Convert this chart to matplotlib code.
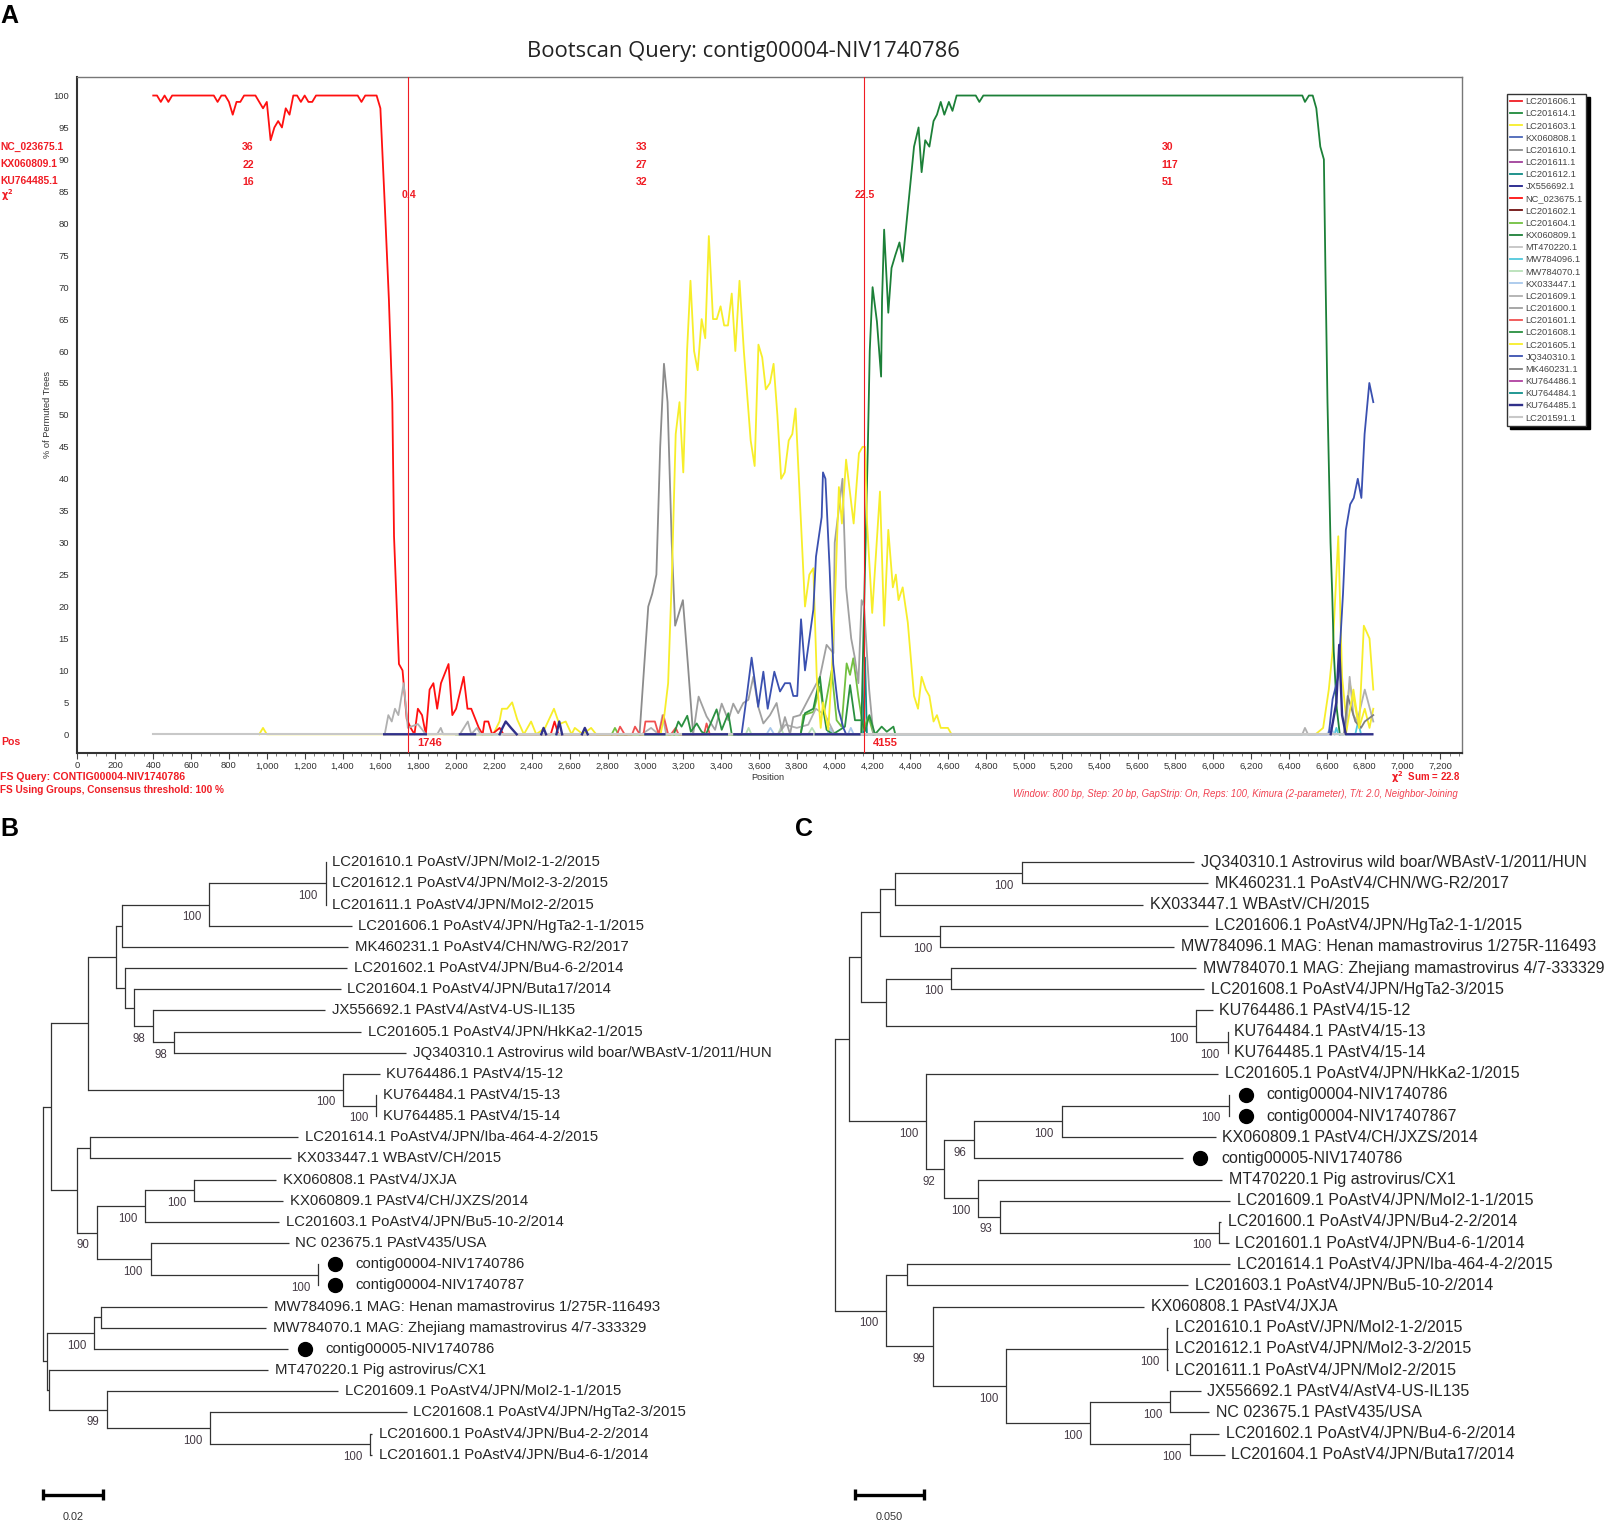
import numpy as np
from matplotlib import pyplot as plt

W, H = 1606, 1522
RED = '#f01c24'

# bootscan panel: series names and colours, same order as the legend
SERIES_NAMES = ['LC201606.1', 'LC201614.1', 'LC201603.1', 'KX060808.1', 'LC201610.1', 'LC201611.1',
                'LC201612.1', 'JX556692.1', 'NC_023675.1', 'LC201602.1', 'LC201604.1', 'KX060809.1',
                'MT470220.1', 'MW784096.1', 'MW784070.1', 'KX033447.1', 'LC201609.1', 'LC201600.1',
                'LC201601.1', 'LC201608.1', 'LC201605.1', 'JQ340310.1', 'MK460231.1', 'KU764486.1',
                'KU764484.1', 'KU764485.1', 'LC201591.1']
SERIES_COLORS = ['#f01c24', '#1f8a3c', '#f7ee2a', '#4a66b8', '#8c8c8c', '#a0409a',
                 '#0f8a84', '#20208a', '#ff1010', '#701010', '#72c040', '#1c8038',
                 '#c4c4c4', '#50c8dc', '#b8e0b8', '#a8c8ec', '#b0b0b0', '#a0a0a0',
                 '#f05050', '#2a9040', '#f7ee2a', '#3a50b0', '#808080', '#b040a0',
                 '#10908a', '#30308a', '#c8c8c8']

NC_023675_X = [400, 420, 440, 460, 480, 500, 720, 740, 760, 780, 800, 820, 840, 860, 880, 940, 960, 980, 1000,
               1020, 1040, 1060, 1080, 1100, 1120, 1140, 1160, 1180, 1200, 1220, 1240, 1260, 1480, 1500, 1520,
               1580, 1600, 1623, 1645, 1663, 1672, 1698, 1717, 1739, 1760, 1780, 1798, 1820, 1840, 1860, 1880,
               1900, 1920, 1960, 1980, 2000, 2040, 2060, 2080, 2120, 2140, 2150, 2170, 2190, 2230, 2250,
               2500, 2520, 2540, 2860, 2880, 2900]
NC_023675_Y = [100, 100, 99, 100, 99, 100, 100, 99, 100, 100, 99, 97, 99, 99, 100, 100, 99, 98, 99,
               93, 95, 96, 95, 98, 97, 100, 100, 99, 100, 99, 99, 100, 100, 99, 100,
               100, 98, 83, 68, 52, 31, 11, 10, 2.4, 1, 0, 4, 3, 0, 7, 8, 4, 8, 11, 3, 4, 9, 4, 4, 1, 0, 2, 2, 0, 1, 0,
               0, 2, 0, 0, 0, 0]

KX060809_X = [2000, 4140, 4163, 4175, 4185, 4200, 4223, 4245, 4250, 4261, 4283, 4300, 4320, 4342, 4359, 4419, 4443,
              4459, 4478, 4500, 4522, 4540, 4560, 4579, 4603, 4622, 4644, 4745, 4764, 4785, 6470, 6484, 6505,
              6525, 6544, 6565, 6584, 6592, 6603, 6611, 6619, 6628, 6636, 6652, 6668]
KX060809_Y = [0, 0, 30, 45, 60, 70, 64.6, 56, 68, 79, 66, 73, 75, 77, 74, 92, 95,
              88, 93, 92, 96, 97, 99, 97, 99, 97.6, 100, 100, 99, 100, 100, 99, 100,
              100, 98, 92, 90, 73, 52, 41, 30, 22, 13, 4, 0]

LC201605_X = [3080, 3100, 3120, 3140, 3160, 3180, 3200, 3220, 3238, 3257, 3276, 3297, 3316, 3335, 3357, 3377, 3397,
              3416, 3436, 3456, 3475, 3497, 3520, 3556, 3577, 3597, 3617, 3636, 3658, 3677, 3697, 3717, 3736,
              3757, 3776, 3793, 3816, 3843, 3866, 3887, 3905, 3926, 3938, 3966, 3984, 4001, 4022, 4038, 4060,
              4100, 4128, 4147, 4160, 4171, 4198, 4239, 4261, 4283, 4307, 4323, 4337, 4359, 4386, 4419, 4440,
              4459, 4481, 4500, 4522, 4540, 4560, 4598, 4617]
LC201605_Y = [0, 3, 8, 25, 47, 52, 41, 60, 71, 60, 57, 65, 62, 78, 65, 65, 67,
              64, 64, 69, 60, 71, 60, 46, 42, 61, 59, 54, 55, 58, 50, 40, 41,
              46, 47, 51, 36.7, 20, 25, 26, 9, 1, 5, 0.7, 9.5, 21, 38.7, 33, 43,
              33, 44, 45, 45, 33, 19, 38, 17, 32, 23, 25, 21, 23, 17.5, 6, 4,
              9, 7, 6, 2, 3, 1, 1, 0]

LC201603_X = [960, 980, 1000, 2196, 2229, 2242, 2269, 2296, 2323, 2358, 2396, 2423, 2470, 2517, 2545, 2579, 2610, 2627,
              2670, 2713, 2740, 6540, 6580, 6610, 6630, 6660, 6680, 6700, 6720, 6745, 6770, 6800, 6825, 6845]
LC201603_Y = [0, 1, 0, 0, 2, 4, 4, 5, 2.3, 0, 2, 0, 1, 4, 1.6, 2, 0, 1,
              0, 1, 0, 0, 1, 7, 13, 31, 9, 3, 8, 5, 1, 4, 1, 4]
LC201605_END_X = [6700, 6740, 6770, 6795, 6825, 6845]
LC201605_END_Y = [0, 7, 1, 17, 15, 7]

JQ340310_X = [3490, 3508, 3535, 3561, 3596, 3623, 3646, 3681, 3711, 3737, 3764, 3781, 3802, 3822, 3843, 3887, 3901,
              3931, 3938, 3951, 3973, 3992, 4019, 4046, 4060, 6610, 6630, 6660, 6685, 6700, 6723, 6742, 6763,
              6782, 6799, 6824, 6845]
JQ340310_Y = [0, 0, 5.9, 12, 4.3, 9.8, 4, 9.8, 6.7, 8, 8, 6, 6, 18, 10, 19.5, 27.8,
              34, 41, 40, 26, 11, 4, 1, 0, 0, 5.5, 9, 22, 32, 36, 37, 40,
              37, 47, 55, 52]

LC201610_X = [2969, 3015, 3036, 3058, 3078, 3098, 3117, 3139, 3157, 3198, 3225, 3252]
LC201610_Y = [0, 20, 22, 25, 45, 58, 52, 30, 17, 21, 10.7, 0]

LC201600_X = [3252, 3281, 3323, 3368, 3403, 3438, 3464, 3490, 3517, 3544, 3570, 3596, 3623, 3658, 3693, 3720, 3737,
              3764, 3781, 3817, 3887, 3922, 3957, 3993, 4000, 4041, 4060, 4087, 4106, 4125, 4142, 4155, 4182, 4204]
LC201600_Y = [0, 5.9, 2.8, 0.7, 4.8, 2.2, 4.8, 3.3, 4.9, 5.4, 9, 4.3, 1.7, 3, 4.9, 0.7, 2.7,
              0, 2.7, 3, 7, 9, 14, 12.7, 30, 40, 23, 15, 12, 8, 21, 20, 7, 0]

LC201609_X = [1623, 1642, 1660, 1677, 1695, 1723, 1745, 1798, 1840, 1900, 1919, 1932, 2020, 2062, 2080, 2110, 2130,
              2980, 3030, 3070, 3090, 3110, 3700, 3740, 3800, 3860, 3900, 3950, 4000, 6470, 6484, 6500,
              6700, 6720, 6740, 6760, 6800, 6845]
LC201609_Y = [0, 3, 2, 4, 3, 8, 1, 1.6, 0, 0, 1, 0, 0, 2, 0, 1, 0,
              0, 1, 0, 3, 0, 0, 1.5, 1, 1.5, 4, 3, 0, 0, 1, 0,
              0, 9, 3, 2, 7, 2]

MK460231_X = [6670, 6690, 6710, 6750, 6780, 6800, 6845]
MK460231_Y = [0, 0, 6, 2, 1, 2, 3]

LC201608_X = [3150, 3174, 3191, 3221, 3240, 3271, 3297, 3320, 3376, 3403, 3438, 3456, 3820, 3843, 3887, 3922, 3943,
              3957, 3990, 4054, 4081, 4107, 4142, 4160, 4183, 4213, 4248, 4275, 4310, 4320]
LC201608_Y = [0, 2, 1.2, 2.9, 0.4, 1.7, 0.4, 0, 3.9, 0.7, 3.3, 0, 0, 3.3, 4, 9, 3.3,
              0.7, 0, 1.2, 7.7, 2.2, 2.2, 0.5, 3, 0, 1.2, 0.4, 1.2, 0]

LC201604_X = [2822, 2839, 2857, 3820, 3834, 3887, 3922, 3943, 3984, 4010, 4036, 4063, 4081, 4098, 4125, 4152, 4178, 4205]
LC201604_Y = [0, 1, 0, 0, 3, 3.5, 7.5, 3.3, 10, 2.2, 1.2, 11.1, 9.3, 11.9, 5.9, 0.7, 2.8, 0]

LC201601_X = [2850, 2866, 2890, 2930, 2945, 2970, 2990, 3000, 3050, 3070, 3095, 3120, 3135, 3160, 3175, 3310, 3323, 3340]
LC201601_Y = [0, 1.2, 0, 0, 1.2, 0, 0, 2, 2, 0, 3, 0, 0, 1, 0, 0, 1.7, 0]

MW784096_X = [6640, 6650, 6660, 6750, 6765, 6780]
MW784096_Y = [0, 1, 0, 0, 2, 0]

MW784070_X = [3530, 3545, 3560, 3700, 3715, 3730, 3860, 3880, 3900]
MW784070_Y = [0, 1, 0, 0, 1, 0, 0, 1, 0]

KX033447_X = [3640, 3660, 3680, 3960, 3975, 3990, 4070, 4085, 4100, 6600, 6620, 6640]
KX033447_Y = [0, 1, 0, 0, 1, 0, 0, 1, 0, 0, 1, 0]

LC201612_X = [4150, 4160, 4170]
LC201612_Y = [0, 12, 0]

# navy trace sits on the baseline, gaps are where it drops under the grey one
KU764485_X = [1620, 1840, np.nan, 2020, 2100, np.nan, 2230, 2245, 2262, 2290, 2320, np.nan, 2450, 2462, 2475, np.nan,
              2530, 2545, 2560, np.nan, 2665, 2680, 2695, np.nan, 3000, 3100, np.nan, 3200, 3430, np.nan,
              3470, 3880, np.nan, 3900, 4130, np.nan, 6620, 6650, 6665, 6680, 6700, 6840]
KU764485_Y = [0, 0, np.nan, 0, 0, np.nan, 0, 1, 2, 1, 0, np.nan, 0, 1, 0, np.nan,
              0, 2, 0, np.nan, 0, 1, 0, np.nan, 0, 0, np.nan, 0, 0, np.nan,
              0, 0, np.nan, 0, 0, np.nan, 0, 5, 14, 3, 0, 0]

BASELINE_X = [400, 6840]
BASELINE_Y = [0, 0]

TRACES = {
    'NC_023675.1': (NC_023675_X, NC_023675_Y),
    'KX060809.1': (KX060809_X, KX060809_Y),
    'LC201605.1': (LC201605_X, LC201605_Y),
    'LC201603.1': (LC201603_X, LC201603_Y),
    'JQ340310.1': (JQ340310_X, JQ340310_Y),
    'LC201610.1': (LC201610_X, LC201610_Y),
    'LC201600.1': (LC201600_X, LC201600_Y),
    'LC201609.1': (LC201609_X, LC201609_Y),
    'MK460231.1': (MK460231_X, MK460231_Y),
    'LC201608.1': (LC201608_X, LC201608_Y),
    'LC201604.1': (LC201604_X, LC201604_Y),
    'LC201601.1': (LC201601_X, LC201601_Y),
    'MW784096.1': (MW784096_X, MW784096_Y),
    'MW784070.1': (MW784070_X, MW784070_Y),
    'KX033447.1': (KX033447_X, KX033447_Y),
    'LC201612.1': (LC201612_X, LC201612_Y),
    'KU764485.1': (KU764485_X, KU764485_Y),
}

BREAKPOINTS = [1746, 4155]
GROUP_NAMES = ['NC_023675.1', 'KX060809.1', 'KU764485.1']
GROUP_COUNTS = [[36, 22, 16], [33, 27, 32], [30, 117, 51]]
GROUP_COUNT_X = [870, 2948, 5728]
CHI_VALUES = ['0.4', '22.5']

# tree B
B_LABELS = ['LC201610.1 PoAstV/JPN/MoI2-1-2/2015', 'LC201612.1 PoAstV4/JPN/MoI2-3-2/2015',
            'LC201611.1 PoAstV4/JPN/MoI2-2/2015', 'LC201606.1 PoAstV4/JPN/HgTa2-1-1/2015',
            'MK460231.1 PoAstV4/CHN/WG-R2/2017', 'LC201602.1 PoAstV4/JPN/Bu4-6-2/2014',
            'LC201604.1 PoAstV4/JPN/Buta17/2014', 'JX556692.1 PAstV4/AstV4-US-IL135',
            'LC201605.1 PoAstV4/JPN/HkKa2-1/2015', 'JQ340310.1 Astrovirus wild boar/WBAstV-1/2011/HUN',
            'KU764486.1 PAstV4/15-12', 'KU764484.1 PAstV4/15-13', 'KU764485.1 PAstV4/15-14',
            'LC201614.1 PoAstV4/JPN/Iba-464-4-2/2015', 'KX033447.1 WBAstV/CH/2015', 'KX060808.1 PAstV4/JXJA',
            'KX060809.1 PAstV4/CH/JXZS/2014', 'LC201603.1 PoAstV4/JPN/Bu5-10-2/2014', 'NC 023675.1 PAstV435/USA',
            'contig00004-NIV1740786', 'contig00004-NIV1740787', 'MW784096.1 MAG: Henan mamastrovirus 1/275R-116493',
            'MW784070.1 MAG: Zhejiang mamastrovirus 4/7-333329', 'contig00005-NIV1740786', 'MT470220.1 Pig astrovirus/CX1',
            'LC201609.1 PoAstV4/JPN/MoI2-1-1/2015', 'LC201608.1 PoAstV4/JPN/HgTa2-3/2015',
            'LC201600.1 PoAstV4/JPN/Bu4-2-2/2014', 'LC201601.1 PoAstV4/JPN/Bu4-6-1/2014']
B_TIPS = [638, 638, 638, 689, 682, 680, 668, 637, 708, 796, 744, 737, 737, 585, 570, 541, 555, 547, 566,
          623, 623, 524, 522, 565, 526, 663, 797, 729, 729]
B_CONTIGS = [19, 20, 23]
# (depth, support, children); an int child is a row in the label list
B_TREE = (85, None, [
    (100, None, [
        (172, None, [
            (228, None, [
                (240, None, [(410, 100, [(638, 100, [0, 1, 2]), 3]), 4]),
                (245, None, [5, (262, None, [6, (300, 98, [7, (342, 98, [8, 9])])])]),
            ]),
            (672, 100, [10, (737, 100, [11, 12])]),
        ]),
        (150, None, [
            (177, None, [13, 14]),
            (190, 90, [
                (284, 100, [(380, 100, [15, 16]), 17]),
                (295, 100, [18, (623, 100, [19, 20])]),
            ]),
        ]),
    ]),
    (92, None, [
        (185, 100, [(197, None, [21, 22]), 23]),
        (97, None, [24, (210, 99, [25, (412, 100, [26, (725, 100, [27, 28])])])]),
    ]),
])

# tree C
C_LABELS = ['JQ340310.1 Astrovirus wild boar/WBAstV-1/2011/HUN', 'MK460231.1 PoAstV4/CHN/WG-R2/2017',
            'KX033447.1 WBAstV/CH/2015', 'LC201606.1 PoAstV4/JPN/HgTa2-1-1/2015',
            'MW784096.1 MAG: Henan mamastrovirus 1/275R-116493', 'MW784070.1 MAG: Zhejiang mamastrovirus 4/7-333329',
            'LC201608.1 PoAstV4/JPN/HgTa2-3/2015', 'KU764486.1 PAstV4/15-12', 'KU764484.1 PAstV4/15-13',
            'KU764485.1 PAstV4/15-14', 'LC201605.1 PoAstV4/JPN/HkKa2-1/2015', 'contig00004-NIV1740786',
            'contig00004-NIV17407867', 'KX060809.1 PAstV4/CH/JXZS/2014', 'contig00005-NIV1740786',
            'MT470220.1 Pig astrovirus/CX1', 'LC201609.1 PoAstV4/JPN/MoI2-1-1/2015', 'LC201600.1 PoAstV4/JPN/Bu4-2-2/2014',
            'LC201601.1 PoAstV4/JPN/Bu4-6-1/2014', 'LC201614.1 PoAstV4/JPN/Iba-464-4-2/2015',
            'LC201603.1 PoAstV4/JPN/Bu5-10-2/2014', 'KX060808.1 PAstV4/JXJA', 'LC201610.1 PoAstV/JPN/MoI2-1-2/2015',
            'LC201612.1 PoAstV4/JPN/MoI2-3-2/2015', 'LC201611.1 PoAstV4/JPN/MoI2-2/2015', 'JX556692.1 PAstV4/AstV4-US-IL135',
            'NC 023675.1 PAstV435/USA', 'LC201602.1 PoAstV4/JPN/Bu4-6-2/2014', 'LC201604.1 PoAstV4/JPN/Buta17/2014']
C_TIPS = [776, 803, 678, 803, 738, 781, 796, 812, 841, 841, 822, 843, 843, 818, 755, 831, 845, 828, 843, 846,
          765, 680, 727, 727, 727, 789, 806, 824, 835]
C_CONTIGS = [11, 12, 14]
C_TREE = (87, None, [
    (113, None, [
        (137, None, [
            (172, None, [
                (202, None, [(445, 100, [0, 1]), 2]),
                (289, 100, [3, 4]),
            ]),
            (185, None, [
                (310, 100, [5, 6]),
                (780, 100, [7, (841, 100, [8, 9])]),
            ]),
        ]),
        (262, 100, [
            10,
            (295, 92, [
                (353, 96, [(522, 100, [(843, 100, [11, 12]), 13]), 14]),
                (362, 100, [15, (403, 93, [16, (825, 100, [17, 18])])]),
            ]),
        ]),
    ]),
    (185, 100, [
        (224, None, [19, 20]),
        (275, 99, [
            21,
            (415, 100, [
                (725, 100, [22, 23, 24]),
                (577, 100, [(731, 100, [25, 26]), (768, 100, [27, 28])]),
            ]),
        ]),
    ]),
])

B_SCALE = ('0.02', 85, 202)
C_SCALE = ('0.050', 124, 258)


def px_text(x, y, s, **kw):
    kw.setdefault('va', 'center')
    kw.setdefault('family', 'Liberation Sans')
    fig.text(x / W, 1 - y / H, s, **kw)


def drawBootscan():
    left, right, top, bottom = 77.5, 1461.7, 77, 753
    ax = fig.add_axes([left / W, 1 - bottom / H, (right - left) / W, (bottom - top) / H])
    ax.set_xlim(0, 7312)
    ax.set_ylim(-2.93, 102.9)
    for name, color in zip(SERIES_NAMES, SERIES_COLORS):
        x, y = TRACES.get(name, (BASELINE_X, BASELINE_Y))
        if name == 'LC201591.1':
            z, lw = 3.5, 1.5
        elif name == 'KU764485.1':
            z, lw = 3.6, 1.7
        elif name in TRACES:
            z, lw = 3, 1.3
        else:
            z, lw = 1, 1.3
        ax.plot(x, y, color=color, lw=lw, zorder=z, label=name)
    ax.plot(LC201605_END_X, LC201605_END_Y, color='#f7ee2a', lw=1.3, zorder=3)
    for b in BREAKPOINTS:
        ax.axvline(b, color=RED, lw=0.8, zorder=4)

    ax.set_xticks(np.arange(0, 7201, 200))
    ax.set_xticks(np.arange(0, 7301, 50), minor=True)
    ax.set_yticks(np.arange(0, 101, 5))
    ax.xaxis.set_major_formatter(plt.FuncFormatter(lambda v, p: f'{int(v):,}'))
    ax.tick_params(axis='x', which='major', length=4, width=0.8, labelsize=6.8, labelcolor='#333333', pad=2, color='#444444')
    ax.tick_params(axis='x', which='minor', length=2, width=0.6, color='#666666')
    ax.tick_params(axis='y', which='major', length=0, labelsize=6.8, labelcolor='#333333', pad=6)
    for lab in ax.get_xticklabels() + ax.get_yticklabels():
        lab.set_family('Liberation Sans')
    for side in ['top', 'right']:
        ax.spines[side].set_color('#777777')
        ax.spines[side].set_linewidth(1.0)
    for side in ['left', 'bottom']:
        ax.spines[side].set_color('#333333')
        ax.spines[side].set_linewidth(1.5)

    # red annotations inside the plot
    for xpos, counts in zip(GROUP_COUNT_X, GROUP_COUNTS):
        for c, yv in zip(counts, [91.9, 89.2, 86.5]):
            ax.text(xpos, yv, str(c), color=RED, fontsize=7.6, fontweight='bold', va='center', family='Liberation Sans')
    for b, chi in zip(BREAKPOINTS, CHI_VALUES):
        ax.text(b + 5, 84.4, chi, color=RED, fontsize=7.6, fontweight='bold', ha='center', va='center', family='Liberation Sans')
        ax.text(b + 47, -1.3, str(b), color=RED, fontsize=8, fontweight='bold', va='center', family='Liberation Sans')

    leg = ax.legend(loc='upper left', bbox_to_anchor=(1507 / W, 1 - 94 / H), bbox_transform=fig.transFigure,
                    fontsize=6.7, frameon=True, fancybox=False, shadow={'color': 'black', 'alpha': 1, 'ox': 2.5, 'oy': -2.5},
                    edgecolor='#333333', framealpha=1, borderpad=0.35, labelspacing=0.34, handlelength=1.3,
                    handletextpad=0.35, borderaxespad=0)
    for t in leg.get_texts():
        t.set_family('Liberation Sans')
        t.set_color('#444444')

    # text around the plot
    px_text(743, 51, 'Bootscan Query: contig00004-NIV1740786', fontsize=15.85, ha='center', family='Open Sans', color='#222222')
    for name, yp in zip(GROUP_NAMES, [147, 164, 181]):
        px_text(0.5, yp, name, color=RED, fontsize=7.4, fontweight='bold')
    px_text(1, 195, r'$\mathbf{\chi^2}$', color=RED, fontsize=7)
    px_text(1, 742, 'Pos', color=RED, fontsize=7.6, fontweight='bold')
    px_text(47.5, 414, '% of Permuted Trees', fontsize=6.7, rotation=90, ha='center', color='#333333')
    px_text(768, 777, 'Position', fontsize=6.7, ha='center', color='#333333')
    px_text(0.5, 777, 'FS Query: CONTIG00004-NIV1740786', color=RED, fontsize=7.6, fontweight='bold')
    px_text(0.5, 790, 'FS Using Groups, Consensus threshold: 100 %', color=RED, fontsize=7.2, fontweight='bold')
    px_text(1460.7, 777, r'$\mathbf{\chi^2}$  Sum = 22.8', color=RED, fontsize=7, fontweight='bold', ha='right')
    px_text(1458, 794, 'Window: 800 bp, Step: 20 bp, GapStrip: On, Reps: 100, Kimura (2-parameter), T/t: 2.0, Neighbor-Joining',
            color='#f04050', fontsize=6.9, style='italic', ha='right')


def drawNode(ax, node, tips):
    # returns depth and row height of a clade, drawing it on the way
    if isinstance(node, int):
        return tips[node], 115 + 46.6 * node
    depth, support, children = node
    ys = []
    for child in children:
        cx, cy = drawNode(ax, child, tips)
        ax.plot([depth, cx], [cy, cy], color='#333333', lw=0.9, solid_capstyle='butt')
        ys.append(cy)
    ax.plot([depth, depth], [ys[0], ys[-1]], color='#333333', lw=0.9, solid_capstyle='projecting')
    y = (ys[0] + ys[-1]) / 2
    if support is not None:
        ax.text(depth - 15, y + 28, str(support), ha='right', va='center', fontsize=8.3, color='#443a44', family='Liberation Sans')
    return depth, y


def drawTree(box, tree, labels, tips, contigs, scale, size):
    ax = fig.add_axes([box[0] / W, 0, box[1] / W, 712 / H])
    ax.set_xlim(0, 1568)
    ax.set_ylim(1568, 0)
    ax.axis('off')
    ax.patch.set_alpha(0)
    drawNode(ax, tree, tips)
    for i, (lab, tip) in enumerate(zip(labels, tips)):
        y = 115 + 46.6 * i
        if i in contigs:
            ax.plot(tip + 33, y, 'o', color='black', ms=10)
            xt = tip + 73
        else:
            xt = tip + 13
        ax.text(xt, y, lab, fontsize=size, color='#262626', va='center', family='Liberation Sans')
    text, x0, x1 = scale
    ax.plot([x0, x1], [1508, 1508], color='black', lw=2.4, solid_capstyle='butt')
    ax.plot([x0, x0], [1496, 1520], color='black', lw=2.4, solid_capstyle='butt')
    ax.plot([x1, x1], [1496, 1520], color='black', lw=2.4, solid_capstyle='butt')
    ax.text((x0 + x1) / 2, 1557, text, fontsize=7.8, ha='center', va='center', color='#333333', family='Liberation Sans')


fig = plt.figure(figsize=(W / 100, H / 100), dpi=100)
drawBootscan()
drawTree((0, 800), B_TREE, B_LABELS, B_TIPS, B_CONTIGS, B_SCALE, 10.75)
drawTree((790, 816), C_TREE, C_LABELS, C_TIPS, C_CONTIGS, C_SCALE, 11.55)
px_text(0, 16, 'A', fontsize=18, fontweight='bold', color='black')
px_text(0, 829, 'B', fontsize=18, fontweight='bold', color='black')
px_text(795, 829, 'C', fontsize=18, fontweight='bold', color='black')
fig.savefig('out.png', dpi=100)
